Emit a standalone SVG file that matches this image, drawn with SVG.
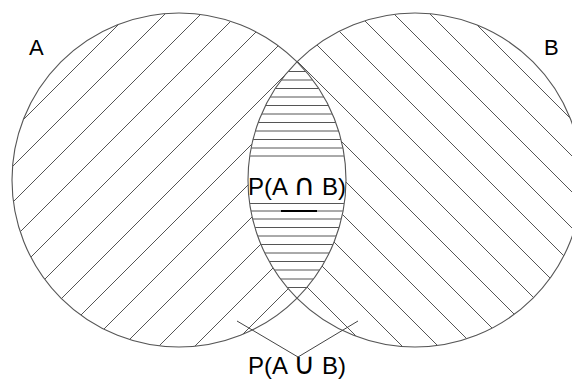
<svg xmlns="http://www.w3.org/2000/svg" width="572" height="380" viewBox="0 0 572 380">
<style>
.h{stroke:#555;stroke-width:1;fill:none}
.c{stroke:#555;stroke-width:1.1;fill:none}
.t{font-family:"Liberation Sans",Arial,sans-serif;fill:#000}
.s{font-family:"DejaVu Sans",sans-serif;font-size:30px}
.p{stroke:#444;stroke-width:1;fill:none}
</style>
<defs>
<clipPath id="clipA"><circle cx="179" cy="180" r="167"/></clipPath>
<clipPath id="clipB"><circle cx="415" cy="180" r="167"/></clipPath>
<clipPath id="clipX"><path clip-rule="evenodd" d="M12,180a167,167 0 1,0 334,0a167,167 0 1,0 -334,0Z M248,180a167,167 0 1,0 334,0a167,167 0 1,0 -334,0Z"/></clipPath>
<clipPath id="clipL"><path d="M297,62 A167,167 0 0,1 297,298 A167,167 0 0,1 297,62Z"/></clipPath>
</defs>
<rect width="572" height="380" fill="#fff"/>
<g id="hatchA" clip-path="url(#clipA)"><g clip-path="url(#clipX)" class="h">
<path d="M-277,420L163,-20M-241,420L199,-20M-205,420L235,-20M-168,420L272,-20M-132,420L308,-20M-96,420L344,-20M-60,420L380,-20M-24,420L416,-20M13,420L453,-20M49,420L489,-20M85,420L525,-20M121,420L561,-20M157,420L597,-20"/>
</g></g>
<g id="hatchB" clip-path="url(#clipB)"><g clip-path="url(#clipX)" class="h">
<path d="M0,-20L440,420M36,-20L476,420M72,-20L512,420M108,-20L548,420M144,-20L584,420M180,-20L620,420M216,-20L656,420M252,-20L692,420M288,-20L728,420M324,-20L764,420M360,-20L800,420M396,-20L836,420M432,-20L872,420"/>
</g></g>
<g id="hatchAB" clip-path="url(#clipL)" class="h">
<path d="M240,71.5H360M240,80H360M240,88.5H360M240,97H360M240,105.5H360M240,114H360M240,122.5H360M240,131H360M240,139.5H360M240,148H360M240,156H360M240,203.5H360M240,211H360M240,219H360M240,227.5H360M240,236H360M240,244.5H360M240,253H360M240,261.5H360M240,270H360M240,279H360M240,287.5H360"/>
</g>
<g id="circleA"><circle class="c" cx="179" cy="180" r="167"/><text class="t" x="29" y="55" font-size="22">A</text></g>
<g id="circleB"><circle class="c" cx="415" cy="180" r="167"/><text class="t" x="544" y="55" font-size="22">B</text></g>
<g id="intersection">
<text class="t" x="297" y="195" font-size="24" text-anchor="middle">P(A <tspan class="s">∩</tspan> B)</text>
<line x1="281" y1="211" x2="317" y2="211" stroke="#000" stroke-width="2"/>
</g>
<g id="union">
<text class="t" x="297" y="374" font-size="24" text-anchor="middle">P(A <tspan class="s">∪</tspan> B)</text>
</g>
<g id="connectors">
<polyline class="p" points="237,321 298,357 358,321"/>
</g>
</svg>
